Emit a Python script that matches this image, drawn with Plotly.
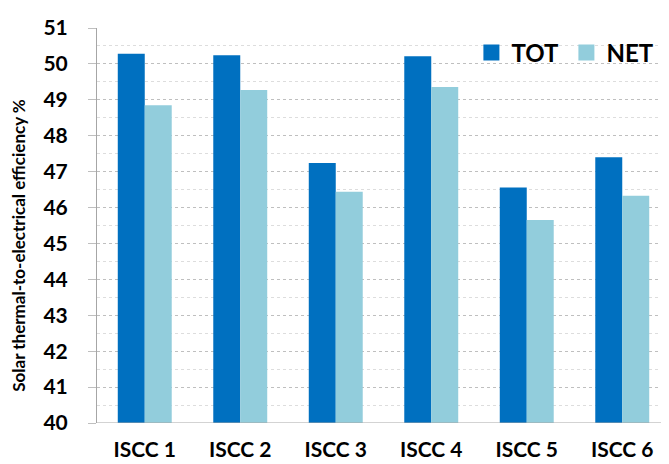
import plotly.graph_objects as go

categories = ["ISCC 1", "ISCC 2", "ISCC 3", "ISCC 4", "ISCC 5", "ISCC 6"]
tot_values = [50.28, 50.24, 47.24, 50.21, 46.56, 47.40]
net_values = [48.85, 49.27, 46.44, 49.36, 45.65, 46.33]
y_ticks = list(range(40, 52))
y_title = "Solar thermal-to-electrical efficiency %"

FONT = "Lato"
TOT_COLOR = "#0070C0"
NET_COLOR = "#92CDDC"

fig = go.Figure()
fig.add_trace(go.Bar(name="TOT", x=categories, y=tot_values, showlegend=False,
                     marker=dict(color=TOT_COLOR, line=dict(width=0))))
fig.add_trace(go.Bar(name="NET", x=categories, y=net_values, showlegend=False,
                     marker=dict(color=NET_COLOR, line=dict(width=0))))
# legend entries with larger square swatches
fig.add_trace(go.Scatter(name="TOT", x=[None], y=[None], mode="markers",
                         marker=dict(symbol="square", size=17, color=TOT_COLOR)))
fig.add_trace(go.Scatter(name="NET", x=[None], y=[None], mode="markers",
                         marker=dict(symbol="square", size=17, color=NET_COLOR)))

fig.update_layout(
    width=669, height=464,
    margin=dict(l=89, r=7, t=20, b=49),
    paper_bgcolor="white", plot_bgcolor="white",
    barmode="group", bargap=0.435, bargroupgap=0,
    font=dict(family=FONT, color="black"),
    legend=dict(
        orientation="h", x=0.985, xanchor="right", y=0.937, yanchor="middle",
        font=dict(size=24, family=FONT, weight="bold"),
        bgcolor="rgba(0,0,0,0)", traceorder="normal",
        entrywidth=50, entrywidthmode="pixels",
    ),
    showlegend=True,
)
fig.update_xaxes(
    showline=False, showgrid=False, ticks="", automargin=False,
    tickfont=dict(size=21, family=FONT, weight="bold"),
    ticklabelstandoff=12,
)
fig.update_yaxes(
    range=[40, 51], tickvals=y_ticks,
    ticks="outside", ticklen=8, tickcolor="#BFBFBF", tickwidth=1,
    showline=True, linecolor="#A6A6A6", linewidth=1,
    showgrid=True, gridcolor="#BFBFBF", griddash="dot", gridwidth=1,
    minor=dict(dtick=0.5, showgrid=True, gridcolor="#DDDDDD", griddash="dot", gridwidth=1),
    zeroline=False, automargin=False,
    tickfont=dict(size=21, family=FONT, weight="bold"),
    ticklabelstandoff=16,
)
fig.add_annotation(
    text=y_title, textangle=-90, showarrow=False,
    xref="paper", yref="paper", x=-0.137, y=0.45, xanchor="center", yanchor="middle",
    font=dict(size=17, family=FONT, weight="bold", color="black"),
)
# bottom axis line at 40
fig.add_shape(type="line", xref="paper", yref="y", x0=0, x1=1, y0=40, y1=40,
              line=dict(color="#A6A6A6", width=1))

fig.write_html("out.html")
